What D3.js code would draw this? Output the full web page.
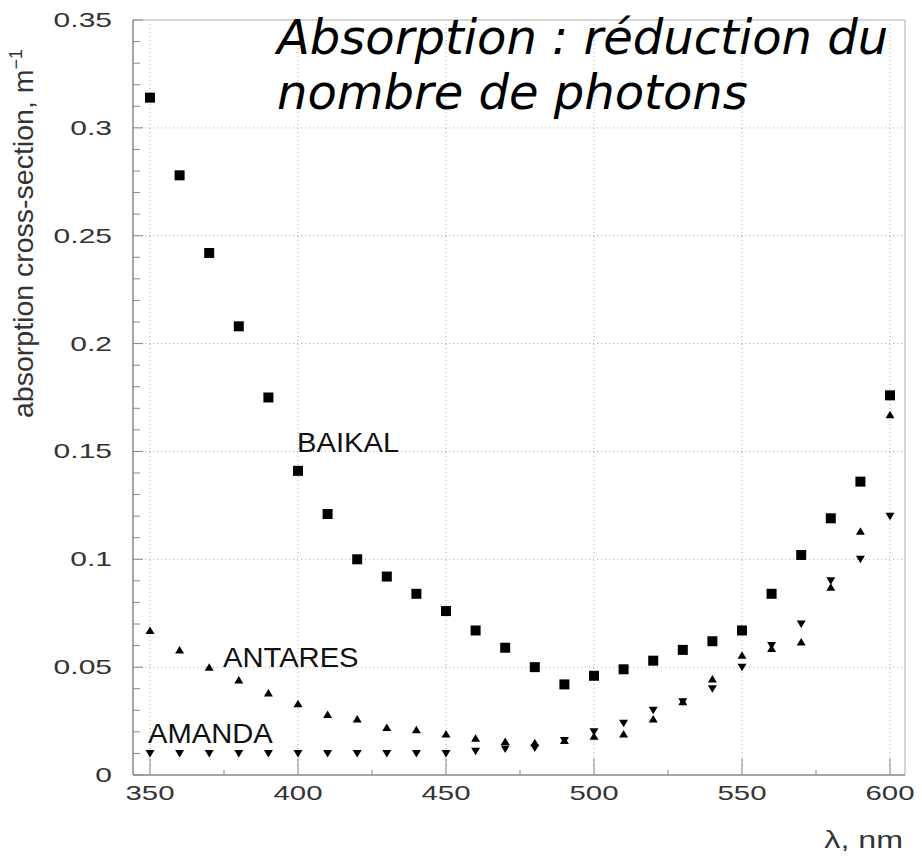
<!DOCTYPE html>
<html><head><meta charset="utf-8">
<script src="https://cdn.jsdelivr.net/npm/d3@7"></script>
<style>body{margin:0;background:#fff}svg{display:block}</style>
</head><body>
<svg id="c" width="922" height="864"></svg>
<script>
const wavelengths = [350,360,370,380,390,400,410,420,430,440,450,460,470,480,490,500,510,520,530,540,550,560,570,580,590,600];
const baikal  = [0.314,0.278,0.242,0.208,0.175,0.141,0.121,0.100,0.092,0.084,0.076,0.067,0.059,0.050,0.042,0.046,0.049,0.053,0.058,0.062,0.067,0.084,0.102,0.119,0.136,0.176];
const antares = [0.067,0.058,0.050,0.044,0.038,0.033,0.028,0.026,0.022,0.021,0.019,0.017,0.0155,0.015,0.016,0.018,0.019,0.026,0.034,0.0445,0.0555,0.0587,0.0617,0.087,0.113,0.167];
const amanda  = [0.010,0.010,0.010,0.010,0.010,0.010,0.010,0.010,0.010,0.010,0.010,0.011,0.012,0.0125,0.016,0.020,0.024,0.030,0.034,0.040,0.050,0.060,0.070,0.090,0.100,0.120];
const xTicks = [350,400,450,500,550,600];
const yTicks = [0,0.05,0.1,0.15,0.2,0.25,0.3,0.35];
const yTickLabels = ["0","0.05","0.1","0.15","0.2","0.25","0.3","0.35"];
const seriesLabels = ["BAIKAL","ANTARES","AMANDA"];
const titleLines = ["Absorption : réduction du","nombre de photons"];

const svg = d3.select("#c");
const x = d3.scaleLinear().domain([350,600]).range([150,890]);
const y = d3.scaleLinear().domain([0,0.35]).range([775,20]);
const L = 133, R = 905, T = 20, B = 775;

// grid
const g = svg.append("g");
g.selectAll(".gx").data(xTicks).join("line")
  .attr("x1",d=>x(d)).attr("x2",d=>x(d)).attr("y1",T).attr("y2",B)
  .attr("stroke","#aaa").attr("stroke-width",1).attr("stroke-dasharray","1,3");
g.selectAll(".gy").data(yTicks.slice(1,-1)).join("line")
  .attr("x1",L).attr("x2",R).attr("y1",d=>y(d)).attr("y2",d=>y(d))
  .attr("stroke","#aaa").attr("stroke-width",1).attr("stroke-dasharray","1,3");

// frame
svg.append("line").attr("x1",L).attr("x2",R).attr("y1",T).attr("y2",T).attr("stroke","#c8c8c8").attr("stroke-width",1.5);
svg.append("line").attr("x1",R).attr("x2",R).attr("y1",T).attr("y2",B).attr("stroke","#c8c8c8").attr("stroke-width",1.5);
svg.append("line").attr("x1",L).attr("x2",L).attr("y1",T).attr("y2",B).attr("stroke","#888").attr("stroke-width",1.5);
svg.append("line").attr("x1",L).attr("x2",R).attr("y1",B).attr("y2",B).attr("stroke","#888").attr("stroke-width",1.5);

// ticks (inward)
const yMinor = d3.range(0,0.3501,0.01);
svg.selectAll(".ty").data(yMinor).join("line")
  .attr("x1",L).attr("x2",(d,i)=>L+(i%5===0?10:7)).attr("y1",d=>y(d)).attr("y2",d=>y(d))
  .attr("stroke","#888").attr("stroke-width",1);
const xMinor = d3.range(350,601,25);
svg.selectAll(".tx").data(xMinor).join("line")
  .attr("x1",d=>x(d)).attr("x2",d=>x(d)).attr("y1",B).attr("y2",(d,i)=>B-(i%2===0?17:5))
  .attr("stroke","#888").attr("stroke-width",1);

const font = "'Liberation Sans', Arial, Helvetica, sans-serif";
// y tick labels
svg.selectAll(".yl").data(yTicks).join("text")
  .attr("transform",d=>`translate(112,${y(d)+7}) scale(1.5,1)`)
  .attr("text-anchor","end").attr("font-family",font).attr("font-size",20).attr("fill","#333")
  .text((d,i)=>yTickLabels[i]);
// x tick labels
svg.selectAll(".xl").data(xTicks).join("text")
  .attr("transform",d=>`translate(${x(d)},800) scale(1.4,1)`)
  .attr("text-anchor","middle").attr("font-family",font).attr("font-size",21).attr("fill","#333")
  .text(d=>d);
// axis titles
svg.append("text").attr("transform","translate(903,848) scale(1.4,1)")
  .attr("text-anchor","end").attr("font-family",font).attr("font-size",23).attr("fill","#333")
  .text("λ, nm");
const yl = svg.append("text").attr("transform","translate(33,418) rotate(-90)")
  .attr("font-family",font).attr("font-size",28.5).attr("fill","#333");
yl.append("tspan").text("absorption cross-section, m");
yl.append("tspan").attr("dy",-11).attr("font-size",18).text("−1");

// markers
function sq(px,py){const s=5;return `M${px-s},${py-s}h${2*s}v${2*s}h${-2*s}Z`;}
function up(px,py){return `M${px},${py-4}L${px+4.5},${py+3.5}L${px-4.5},${py+3.5}Z`;}
function dn(px,py){return `M${px},${py+4}L${px+4.5},${py-3.5}L${px-4.5},${py-3.5}Z`;}
svg.append("g").selectAll("path").data(wavelengths).join("path")
  .attr("d",(d,i)=>sq(x(d),y(baikal[i]))).attr("fill","#000");
svg.append("g").selectAll("path").data(wavelengths).join("path")
  .attr("d",(d,i)=>up(x(d),y(antares[i]))).attr("fill","#000");
svg.append("g").selectAll("path").data(wavelengths).join("path")
  .attr("d",(d,i)=>dn(x(d),y(amanda[i]))).attr("fill","#000");

// series labels
const lab = [[297,452],[223,667],[148,743]];
svg.selectAll(".sl").data(seriesLabels).join("text")
  .attr("transform",(d,i)=>`translate(${lab[i][0]},${lab[i][1]}) scale(1.08,1)`)
  .attr("font-family",font).attr("font-size",27).attr("fill","#111")
  .text(d=>d);

// title
svg.selectAll(".tt").data(titleLines).join("text")
  .attr("x",277).attr("y",(d,i)=>54+i*55)
  .attr("font-family","'DejaVu Sans', sans-serif").attr("font-style","italic")
  .attr("font-size",48).attr("fill","#000").text(d=>d);
</script>
</body></html>
